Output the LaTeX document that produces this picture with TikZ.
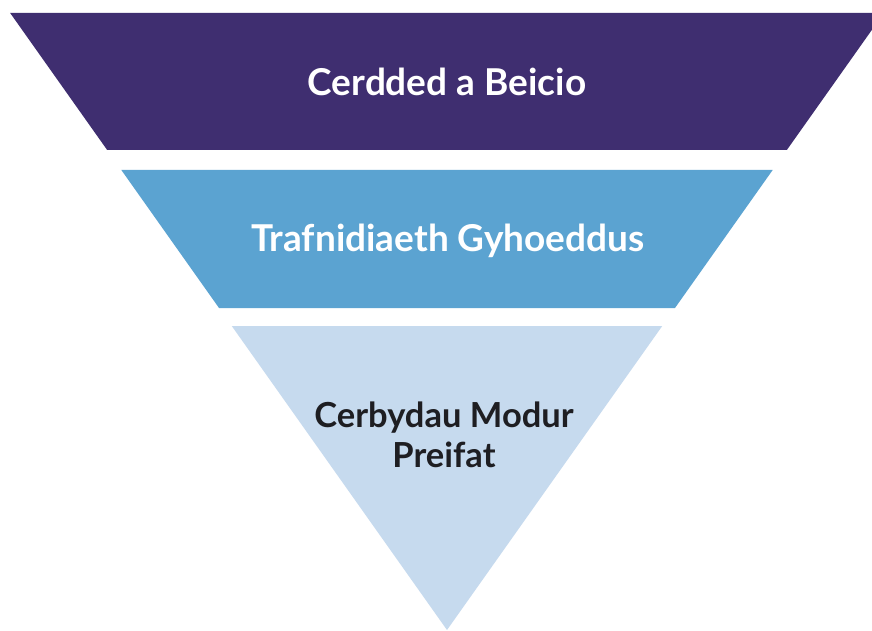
\documentclass[tikz,border=0pt]{standalone}
\usepackage{fontspec}
\setmainfont{Lato}
\definecolor{bandA}{HTML}{3F2E70}
\definecolor{bandB}{HTML}{5BA3D1}
\definecolor{bandC}{HTML}{C6DAEE}
\definecolor{darktext}{HTML}{1E1E22}
\begin{document}
\begin{tikzpicture}[x=1pt,y=1pt,
  label text/.style={font=\bfseries\fontsize{37}{44}\selectfont, align=center}]
\useasboundingbox (0,0) rectangle (872,630);
\clip (0,0) rectangle (872,630);
\fill[white] (0,0) rectangle (872,630);
% bands of an inverted triangle, apex at (447,0), half-width = 0.708*y
\fill[bandA] (447-0.708*617,617) -- (447+0.708*617,617) -- (447+0.708*480,480) -- (447-0.708*480,480) -- cycle;
\fill[bandB] (447-0.708*460,460) -- (447+0.708*460,460) -- (447+0.708*322,322) -- (447-0.708*322,322) -- cycle;
\fill[bandC] (447-0.708*304,304) -- (447+0.708*304,304) -- (447,0) -- cycle;
\node[label text, text=white] (t1) at (447,548) {Cerdded a Beicio};
\node[label text, text=white] (t2) at (448,389) {Trafnidiaeth Gyhoeddus};
\node[label text, text=darktext, font=\bfseries\fontsize{34.5}{40}\selectfont] (t3) at (444,195) {Cerbydau Modur\\Preifat};
\end{tikzpicture}
\end{document}
